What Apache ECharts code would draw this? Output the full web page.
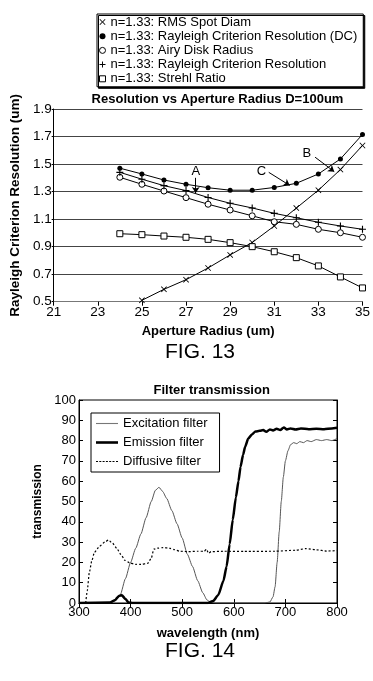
<!DOCTYPE html>
<html>
<head>
<meta charset="utf-8">
<script src="https://cdn.jsdelivr.net/npm/echarts@6/dist/echarts.min.js"></script>
<style>
  html, body { margin: 0; padding: 0; background: #fff; }
  #main { width: 373px; height: 681px; }
</style>
</head>
<body>
<div id="main"></div>
<script>
// FIG. 13 data
const radius = [24, 25, 26, 27, 28, 29, 30, 31, 32, 33, 34, 35];
const rmsSpot = [null, 0.51, 0.59, 0.66, 0.745, 0.84, 0.93, 1.05, 1.18, 1.31, 1.46, 1.635];
const rayleighDC = [1.47, 1.428, 1.384, 1.353, 1.328, 1.31, 1.31, 1.33, 1.36, 1.428, 1.537, 1.715];
const airyDisk = [1.404, 1.353, 1.304, 1.256, 1.208, 1.166, 1.124, 1.081, 1.062, 1.026, 1.001, 0.968];
const rayleigh = [1.44, 1.39, 1.343, 1.307, 1.257, 1.215, 1.181, 1.142, 1.11, 1.077, 1.05, 1.026];
const strehl = [0.994, 0.987, 0.977, 0.968, 0.953, 0.929, 0.90, 0.863, 0.82, 0.76, 0.68, 0.60];
const names13 = [
  'n=1.33: RMS Spot Diam',
  'n=1.33: Rayleigh Criterion Resolution (DC)',
  'n=1.33: Airy Disk Radius',
  'n=1.33: Rayleigh Criterion Resolution',
  'n=1.33: Strehl Ratio'
];
const annoLabels = ['A', 'C', 'B'];
const annoText = [[27.44, 1.45], [30.42, 1.45], [32.48, 1.575]];
const annoArrows = [
  [[27.44, 1.40], [27.44, 1.29]],
  [[30.75, 1.44], [31.7, 1.345]],
  [[32.85, 1.55], [33.72, 1.445]]
];

// FIG. 14 data (wavelength nm, transmission)
const excitation = [
  [300, 0], [360, 0], [370, 1], [380, 4], [390, 12], [400, 20], [410, 27], [420, 34],
  [430, 42], [440, 50], [448, 55.5], [455, 57], [462, 55], [470, 51.5], [480, 45.5],
  [490, 39], [500, 32], [510, 24], [520, 18], [530, 11], [540, 5], [548, 1.5], [555, 0.3],
  [565, 0], [660, 0], [670, 0.5], [676, 3], [680, 8], [684, 20], [688, 35], [692, 50],
  [696, 62], [700, 70], [705, 75], [710, 78], [716, 79], [722, 78.5], [728, 79.5],
  [735, 79], [742, 80], [750, 79.5], [760, 80.5], [770, 80], [780, 80.5], [790, 80], [800, 81]
];
const emission = [
  [300, 0], [360, 0.2], [370, 1.5], [378, 3.6], [383, 3.8], [390, 2], [396, 0.3], [405, 0],
  [550, 0], [560, 1], [570, 4], [580, 11], [586, 18], [592, 29], [598, 41], [604, 52],
  [609, 60], [613, 67], [618, 73], [622, 77], [628, 81], [635, 83], [642, 84.5], [650, 84.8],
  [657, 85.2], [663, 84.3], [670, 85.5], [676, 85], [683, 85.8], [690, 85.2], [697, 86.5],
  [703, 85.5], [710, 86], [720, 85.5], [730, 86], [745, 85.6], [760, 85.8], [775, 85.6],
  [790, 86], [800, 86.3]
];
const diffusive = [
  [313, 0], [316, 6], [320, 15], [325, 21], [330, 25], [340, 28], [350, 30], [357, 31],
  [365, 29.5], [373, 27], [381, 24], [389, 21], [398, 19.8], [410, 19], [420, 19],
  [433, 19.5], [440, 22], [445, 26.5], [452, 27], [463, 27.3], [475, 27], [485, 26.3],
  [495, 25.5], [510, 25.3], [530, 25.5], [543, 25.5], [547, 26.5], [551, 24.5], [556, 25.3],
  [580, 25.5], [620, 25.4], [680, 25.5], [720, 26], [740, 26.8], [760, 26.2], [780, 25.6], [800, 25.8]
];
const names14 = ['Excitation filter', 'Emission filter', 'Diffusive filter'];

const crossPath = 'path://M1,0L5,4L9,0L10,1L6,5L10,9L9,10L5,6L1,10L0,9L4,5L0,1Z';
const plusPath = 'path://M4.2,0H5.8V4.2H10V5.8H5.8V10H4.2V5.8H0V4.2H4.2Z';
const icons13 = [crossPath, 'circle', 'circle', plusPath, 'rect'];
const hollow13 = [false, false, true, false, true];
const sizes13 = [6, 5, 6, 7, 6];
// legend line samples for FIG. 14
const icons14 = [
  'path://M0,0H22V1.1H0Z',
  'path://M0,0H22V2.6H0Z',
  'path://M0,0h2v1.2h-2zM3.3,0h2v1.2h-2zM6.6,0h2v1.2h-2zM9.9,0h2v1.2h-2zM13.2,0h2v1.2h-2zM16.5,0h2v1.2h-2zM20,0h2v1.2h-2z'
];

const font = 'Liberation Sans, Arial, sans-serif';
const pairs = (vals) => radius.map((r, i) => [r, vals[i]]);
const markerStyle = (i) => hollow13[i]
  ? { color: '#fff', borderColor: '#000', borderWidth: 1 }
  : { color: '#000', borderWidth: 0 };

const topSeries = [rmsSpot, rayleighDC, airyDisk, rayleigh, strehl].map((vals, i) => ({
  name: names13[i],
  type: 'line',
  xAxisIndex: 0,
  yAxisIndex: 0,
  data: pairs(vals),
  symbol: icons13[i],
  symbolSize: sizes13[i],
  showAllSymbol: true,
  lineStyle: { color: '#000', width: 1 },
  itemStyle: markerStyle(i),
  z: 3
}));

topSeries[1].markPoint = {
  symbol: 'circle',
  symbolSize: 0,
  silent: true,
  label: { show: true, position: 'inside', color: '#000', fontSize: 13, fontFamily: font, formatter: (p) => p.name },
  data: annoLabels.map((l, i) => ({ name: l, coord: annoText[i] }))
};
topSeries[1].markLine = {
  silent: true,
  symbol: ['none', 'arrow'],
  symbolSize: 6,
  lineStyle: { color: '#000', width: 1, type: 'solid' },
  label: { show: false },
  data: annoArrows.map((a) => [{ coord: a[0] }, { coord: a[1] }])
};

const bottomSeries = [
  { data: excitation, lineStyle: { color: '#555', width: 1 } },
  { data: emission, lineStyle: { color: '#000', width: 2.5 } },
  { data: diffusive, lineStyle: { color: '#000', width: 1.2, type: [2, 2] } }
].map((s, i) => ({
  name: names14[i],
  type: 'line',
  xAxisIndex: 1,
  yAxisIndex: 1,
  data: s.data,
  symbol: 'none',
  smooth: 0.2,
  smoothMonotone: 'x',
  lineStyle: s.lineStyle,
  itemStyle: { color: i === 0 ? '#777' : '#000' }
}));

const chart = echarts.init(document.getElementById('main'), null, { renderer: 'canvas' });
chart.setOption({
  animation: false,
  backgroundColor: '#fff',
  textStyle: { fontFamily: font, color: '#000' },
  title: [
    { text: 'Resolution vs Aperture Radius D=100um', left: 217.5, top: 93, textAlign: 'center', padding: 0,
      textStyle: { fontSize: 13, fontWeight: 'bold', color: '#000', fontFamily: font } },
    { text: 'FIG. 13', left: 200, top: 341.5, textAlign: 'center', padding: 0,
      textStyle: { fontSize: 21, fontWeight: 'normal', color: '#000', fontFamily: font } },
    { text: 'Filter transmission', left: 211.7, top: 383.5, textAlign: 'center', padding: 0,
      textStyle: { fontSize: 13, fontWeight: 'bold', color: '#000', fontFamily: font } },
    { text: 'FIG. 14', left: 200, top: 641, textAlign: 'center', padding: 0,
      textStyle: { fontSize: 21, fontWeight: 'normal', color: '#000', fontFamily: font } }
  ],
  legend: [
    {
      orient: 'vertical',
      left: 97,
      top: 14,
      padding: [1, 6, 1, 2],
      itemWidth: 6,
      itemHeight: 6,
      itemGap: 0.2,
      borderColor: '#000',
      borderWidth: 1,
      backgroundColor: '#fff',
      shadowColor: '#000',
      shadowOffsetX: 1.5,
      shadowOffsetY: 1.5,
      shadowBlur: 0,
      selectedMode: false,
      textStyle: { fontSize: 13, lineHeight: 14, color: '#000', fontFamily: font },
      data: names13.map((n, i) => ({ name: n, icon: icons13[i], itemStyle: markerStyle(i) }))
    },
    {
      orient: 'vertical',
      left: 91,
      top: 413,
      padding: [4, 12, 4, 5],
      itemWidth: 22,
      itemHeight: 14,
      itemGap: 6,
      symbolKeepAspect: true,
      borderColor: '#000',
      borderWidth: 1,
      backgroundColor: '#fff',
      selectedMode: false,
      textStyle: { fontSize: 13, color: '#000', fontFamily: font },
      data: names14.map((n, i) => ({ name: n, icon: icons14[i] }))
    }
  ],
  grid: [
    { left: 50, right: 6, top: 109, height: 192.7 },
    { left: 79, width: 258, top: 400, height: 203, show: true, borderColor: '#000', borderWidth: 1 }
  ],
  xAxis: [
    {
      type: 'value', gridIndex: 0, min: 21, max: 35, interval: 2,
      name: 'Aperture Radius (um)', nameLocation: 'middle', nameGap: 23,
      nameTextStyle: { fontSize: 13, fontWeight: 'bold', color: '#000' },
      axisLine: { show: true, lineStyle: { color: '#777', width: 1 } },
      axisTick: { show: true, length: 4, lineStyle: { color: '#000' } },
      axisLabel: { fontSize: 13.5, color: '#000', margin: 4 },
      splitLine: { show: false }
    },
    {
      type: 'value', gridIndex: 1, min: 300, max: 800, interval: 100,
      name: 'wavelength (nm)', nameLocation: 'middle', nameGap: 24,
      nameTextStyle: { fontSize: 13, fontWeight: 'bold', color: '#000' },
      axisLine: { show: true, lineStyle: { color: '#000' } },
      axisTick: { show: true, inside: true, length: 4, lineStyle: { color: '#000' } },
      axisLabel: { fontSize: 13, color: '#000', margin: 3 },
      splitLine: { show: false }
    },
    {
      type: 'value', gridIndex: 1, position: 'top', min: 300, max: 800, interval: 100,
      axisLine: { show: true, lineStyle: { color: '#000' } },
      axisTick: { show: true, inside: true, length: 4, lineStyle: { color: '#000' } },
      axisLabel: { show: false },
      splitLine: { show: false }
    }
  ],
  yAxis: [
    {
      type: 'value', gridIndex: 0, min: 0.5, max: 1.9, interval: 0.2,
      name: 'Rayleigh Criterion Resolution (um)', nameLocation: 'middle', nameGap: 22,
      nameTextStyle: { fontSize: 13.5, fontWeight: 'bold', color: '#000' },
      axisLine: { show: true, lineStyle: { color: '#000', width: 1 } },
      axisTick: { show: true, length: 2, lineStyle: { color: '#000' } },
      axisLabel: { fontSize: 13.5, color: '#000', margin: 2, formatter: (v) => v.toFixed(1) },
      splitLine: { show: true, lineStyle: { color: '#444', width: 1 } }
    },
    {
      type: 'value', gridIndex: 1, min: 0, max: 100, interval: 10,
      name: 'transmission', nameLocation: 'middle', nameGap: 21,
      nameTextStyle: { fontSize: 12, fontWeight: 'bold', color: '#000' },
      axisLine: { show: true, lineStyle: { color: '#000' } },
      axisTick: { show: true, inside: true, length: 4, lineStyle: { color: '#000' } },
      axisLabel: { fontSize: 13, color: '#000', margin: 3 },
      splitLine: { show: false }
    },
    {
      type: 'value', gridIndex: 1, position: 'right', min: 0, max: 100, interval: 10,
      axisLine: { show: true, lineStyle: { color: '#000' } },
      axisTick: { show: true, inside: true, length: 4, lineStyle: { color: '#000' } },
      axisLabel: { show: false },
      splitLine: { show: false }
    }
  ],
  series: [...topSeries, ...bottomSeries]
});
</script>
</body>
</html>
